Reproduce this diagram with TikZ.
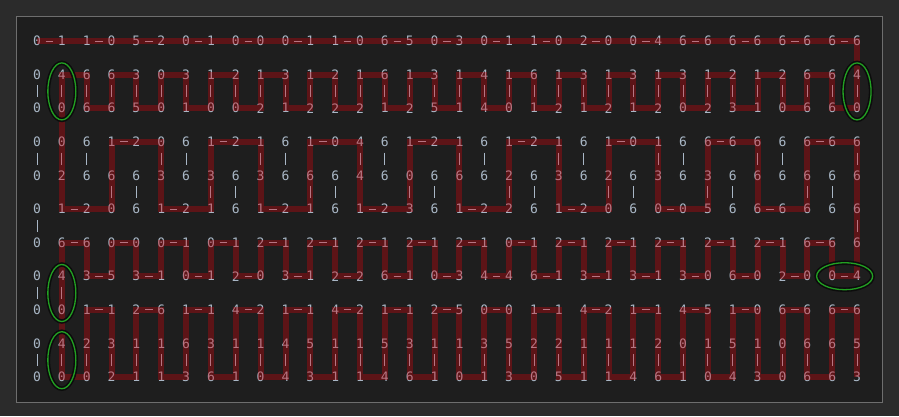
\documentclass[tikz,border=0pt]{standalone}
\usepackage{fontspec}
\setmonofont{DejaVu Sans Mono}
\usetikzlibrary{calc}
\definecolor{outerbg}{HTML}{2B2B2B}
\definecolor{innerbg}{HTML}{1E1E1E}
\definecolor{bordercol}{HTML}{6E6E6E}
\definecolor{txt}{HTML}{A9B7C6}
\definecolor{pathred}{HTML}{CF040D}
\definecolor{ringgreen}{HTML}{22A022}
\definecolor{ringblack}{HTML}{0C0C0C}
\tikzset{
  digit/.style={inner sep=0pt, text=txt, font=\ttfamily\fontsize{13}{13}\selectfont},
  conn/.style={draw=txt, line width=1pt},
  redpath/.style={draw=pathred, opacity=0.36, line width=6pt},
  ringhalo/.style={draw=ringblack, line width=4.5pt},
  ring/.style={draw=ringgreen, line width=1.3pt}
}
\newcommand\dmH[2]{\pgfmathtruncatemacro\dmnx{#2+1}%
  \draw[conn] ($(d#1-#2.center)!0.35!(d#1-\dmnx.center)$) -- ($(d#1-#2.center)!0.65!(d#1-\dmnx.center)$);}
\newcommand\dmV[2]{\pgfmathtruncatemacro\dmny{#1+1}%
  \draw[conn] ($(d#1-#2.center)!0.32!(d\dmny-#2.center)$) -- ($(d#1-#2.center)!0.68!(d\dmny-#2.center)$);}
\newcommand\dmRing[3]{%
  \draw[ringhalo] (#1) ellipse [x radius=#2, y radius=#3];
  \draw[ring] (#1) ellipse [x radius=#2, y radius=#3];}
\begin{document}
\begin{tikzpicture}[x=1pt,y=-1pt]
\useasboundingbox (0,0) rectangle (899,416);
\fill[outerbg] (0,0) rectangle (899,416);
\filldraw[fill=innerbg, draw=bordercol, line width=1pt] (16.5,16.5) rectangle (882.5,402.5);
% digits
\foreach \row [count=\r from 0] in {
 {0,1,1,0,5,2,0,1,0,0,0,1,1,0,6,5,0,3,0,1,1,0,2,0,0,4,6,6,6,6,6,6,6,6},
 {0,4,6,6,3,0,3,1,2,1,3,1,2,1,6,1,3,1,4,1,6,1,3,1,3,1,3,1,2,1,2,6,6,4},
 {0,0,6,6,5,0,1,0,0,2,1,2,2,2,1,2,5,1,4,0,1,2,1,2,1,2,0,2,3,1,0,6,6,0},
 {0,0,6,1,2,0,6,1,2,1,6,1,0,4,6,1,2,1,6,1,2,1,6,1,0,1,6,6,6,6,6,6,6,6},
 {0,2,6,6,6,3,6,3,6,3,6,6,6,4,6,0,6,6,6,2,6,3,6,2,6,3,6,3,6,6,6,6,6,6},
 {0,1,2,0,6,1,2,1,6,1,2,1,6,1,2,3,6,1,2,2,6,1,2,0,6,0,0,5,6,6,6,6,6,6},
 {0,6,6,0,0,0,1,0,1,2,1,2,1,2,1,2,1,2,1,0,1,2,1,2,1,2,1,2,1,2,1,6,6,6},
 {0,4,3,5,3,1,0,1,2,0,3,1,2,2,6,1,0,3,4,4,6,1,3,1,3,1,3,0,6,0,2,0,0,4},
 {0,0,1,1,2,6,1,1,4,2,1,1,4,2,1,1,2,5,0,0,1,1,4,2,1,1,4,5,1,0,6,6,6,6},
 {0,4,2,3,1,1,6,3,1,1,4,5,1,1,5,3,1,1,3,5,2,2,1,1,1,2,0,1,5,1,0,6,6,5},
 {0,0,0,2,1,1,3,6,1,0,4,3,1,1,4,6,1,0,1,3,0,5,1,1,4,6,1,0,4,3,0,6,6,3}}
{
  \foreach \d [count=\c from 0] in \row {
    \node[digit] (d\r-\c) at ({37+24.85*\c},{41+33.6*\r}) {\d};
  }
}
% horizontal dominoes
\foreach \c in {0,2,...,32} {\dmH{0}{\c}}
\foreach \c in {3,7,...,31} {\dmH{3}{\c}}
\foreach \c in {1,5,...,29} {\dmH{5}{\c}}
\foreach \c in {1,3,...,31} {\dmH{6}{\c}}
\foreach \c in {2,4,...,32} {\dmH{7}{\c}\dmH{8}{\c}}
% vertical dominoes
\foreach \c in {0,...,33} {\dmV{1}{\c}\dmV{9}{\c}}
\foreach \c in {0,1,2,5,6,9,10,13,14,17,18,21,22,25,26,29,30,33} {\dmV{3}{\c}}
\foreach \c in {3,4,7,8,11,12,15,16,19,20,23,24,27,28,31,32} {\dmV{4}{\c}}
\foreach \c in {0,33} {\dmV{5}{\c}}
\foreach \c in {0,1} {\dmV{7}{\c}}
% red path
\draw[redpath] (d0-0.center) -- (d0-33.center) -- (d2-33.center)
  \foreach \k [evaluate=\k as \a using int(2*\k), evaluate=\k as \b using int(2*\k-1)] in {16,15,...,1}
    { -- (d2-\a.center) -- (d1-\a.center) -- (d1-\b.center) -- (d2-\b.center) }
  -- (d5-1.center)
  \foreach \m [evaluate=\m as \a using int(4*\m+3), evaluate=\m as \b using int(4*\m+5)] in {0,...,7}
    { -- (d5-\a.center) -- (d3-\a.center) -- (d3-\b.center) -- (d5-\b.center) }
  -- (d7-33.center)
  \foreach \k [evaluate=\k as \a using int(2*\k), evaluate=\k as \b using int(2*\k-1)] in {16,15,...,1}
    { -- (d7-\a.center) -- (d6-\a.center) -- (d6-\b.center) -- (d7-\b.center) }
  -- (d10-1.center)
  \foreach \k [evaluate=\k as \a using int(2*\k), evaluate=\k as \b using int(2*\k+1)] in {1,...,16}
    { -- (d10-\a.center) -- (d8-\a.center) -- (d8-\b.center) -- (d10-\b.center) };
% rings
\dmRing{$(d1-1.center)!0.5!(d2-1.center)$}{14pt}{28.5pt}
\dmRing{$(d1-33.center)!0.5!(d2-33.center)$}{14pt}{28.5pt}
\dmRing{$(d7-1.center)!0.5!(d8-1.center)$}{14pt}{28.5pt}
\dmRing{$(d9-1.center)!0.5!(d10-1.center)$}{14pt}{28.5pt}
\dmRing{$(d7-32.center)!0.5!(d7-33.center)$}{28pt}{13.5pt}
\end{tikzpicture}
\end{document}
